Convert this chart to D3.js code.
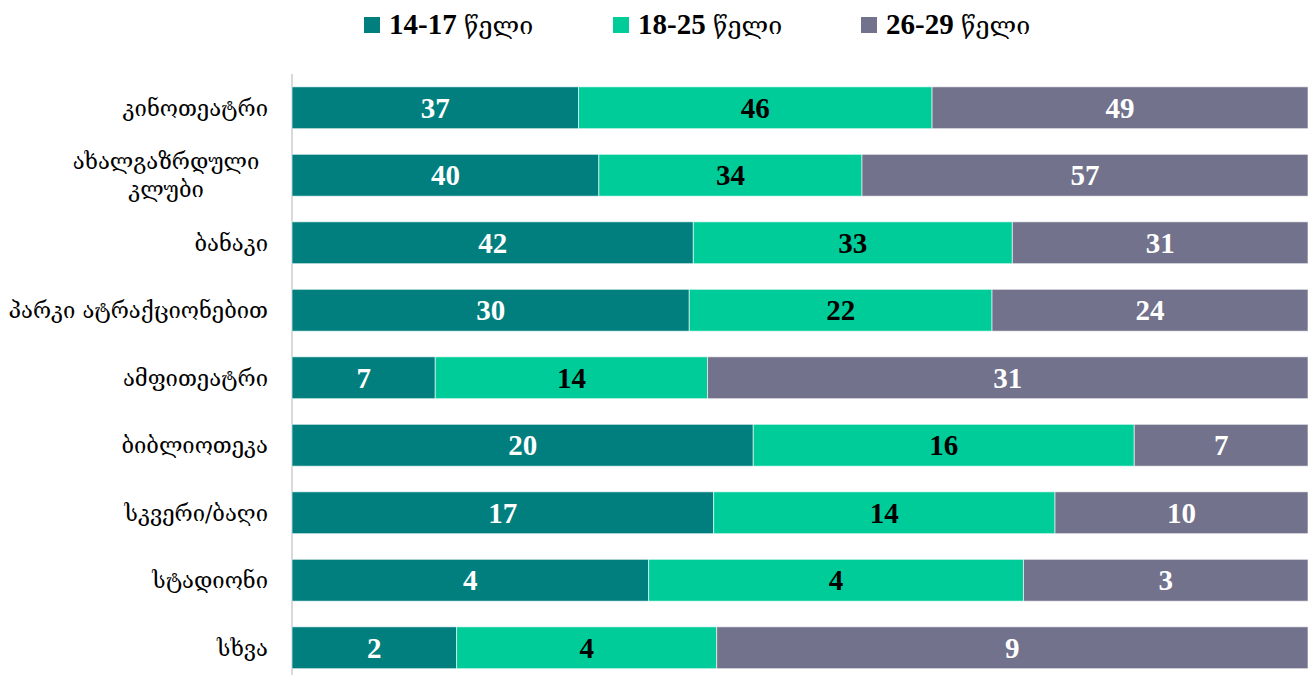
<!DOCTYPE html>
<html><head><meta charset="utf-8">
<script src="https://cdn.jsdelivr.net/npm/d3@7"></script>
<style>body{margin:0;background:#fff}</style>
</head><body><svg id="c" width="1316" height="675"></svg>
<script>
const categories = ["კინოთეატრი", "ახალგაზრდული კლუბი", "ბანაკი", "პარკი ატრაქციონებით", "ამფითეატრი", "ბიბლიოთეკა", "სკვერი/ბაღი", "სტადიონი", "სხვა"];
const categoryLines = [["კინოთეატრი"], ["ახალგაზრდული", "კლუბი"], ["ბანაკი"], ["პარკი ატრაქციონებით"], ["ამფითეატრი"], ["ბიბლიოთეკა"], ["სკვერი/ბაღი"], ["სტადიონი"], ["სხვა"]];
const seriesAges = ["14-17", "18-25", "26-29"];
const seriesUnit = "წელი";
// data labels shown on the bars
const label1417 = [37, 40, 42, 30, 7, 20, 17, 4, 2];
const label1825 = [46, 34, 33, 22, 14, 16, 14, 4, 4];
const label2629 = [49, 57, 31, 24, 31, 7, 10, 3, 9];
// segment shares (%) as drawn in the chart
const share1417 = [28.2, 30.2, 39.5, 39.1, 14.1, 45.4, 41.5, 35.1, 16.2];
const share1825 = [34.8, 25.9, 31.4, 29.8, 26.8, 37.5, 33.6, 36.9, 25.6];
const share2629 = [37.0, 43.9, 29.1, 31.1, 59.1, 17.1, 24.9, 28.0, 58.2];
const colors = ["#017f7e", "#00cc99", "#72728c"];
const labelColors = ["#ffffff", "#000000", "#ffffff"];

const svg = d3.select("#c");
const serif = "'Liberation Serif','DejaVu Serif',serif";
const geo = "'DejaVu Serif','DejaVu Sans',serif";

const rows = categories.map((c, i) => ({
  cat: c,
  vals: [share1417[i], share1825[i], share2629[i]],
  labs: [label1417[i], label1825[i], label2629[i]]
}));
const x = d3.scaleLinear().domain([0, 100]).range([292, 1308]);
const y = d3.scaleBand().domain(categories).range([74, 681.5]).paddingInner(0.38).paddingOuter(0.19);

// axis line
svg.append("line").attr("x1", 292).attr("x2", 292).attr("y1", 74).attr("y2", 675)
  .attr("stroke", "#d9d9d9").attr("stroke-width", 2);

rows.forEach((r, i) => {
  const tot = d3.sum(r.vals);
  let acc = 0;
  r.vals.forEach((v, k) => {
    const x0 = x(acc / tot * 100), x1 = x((acc + v) / tot * 100);
    svg.append("rect").attr("x", x0).attr("y", y(r.cat)).attr("width", x1 - x0).attr("height", y.bandwidth())
      .attr("fill", colors[k]).attr("stroke", "#ffffff").attr("stroke-opacity", 0.6).attr("stroke-width", 1);
    svg.append("text").attr("x", (x0 + x1) / 2).attr("y", y(r.cat) + y.bandwidth() / 2)
      .attr("dy", "0.35em").attr("text-anchor", "middle")
      .attr("font-family", serif).attr("font-weight", "bold").attr("font-size", 29)
      .attr("fill", labelColors[k]).text(r.labs[k]);
    acc += v;
  });
  const lines = categoryLines[i];
  const cy = y(r.cat) + y.bandwidth() / 2;
  lines.forEach((ln, j) => {
    svg.append("text")
      .attr("x", lines.length > 1 ? 166 : 268)
      .attr("y", cy + (j - (lines.length - 1) / 2) * 28)
      .attr("dy", "0.36em").attr("text-anchor", lines.length > 1 ? "middle" : "end")
      .attr("font-family", geo).attr("font-size", 22).attr("fill", "#000").text(ln);
  });
});

// legend
const legX = [364, 613, 861];
seriesAges.forEach((n, k) => {
  svg.append("rect").attr("x", legX[k]).attr("y", 17).attr("width", 16).attr("height", 16).attr("fill", colors[k]);
  const t = svg.append("text").attr("x", legX[k] + 25).attr("y", 24).attr("dy", "0.36em")
    .attr("font-family", serif).attr("font-size", 29).attr("fill", "#000");
  t.append("tspan").attr("font-weight", "bold").text(n + " ");
  t.append("tspan").attr("font-family", geo).attr("font-size", 25).text(seriesUnit);
});
</script></body></html>
